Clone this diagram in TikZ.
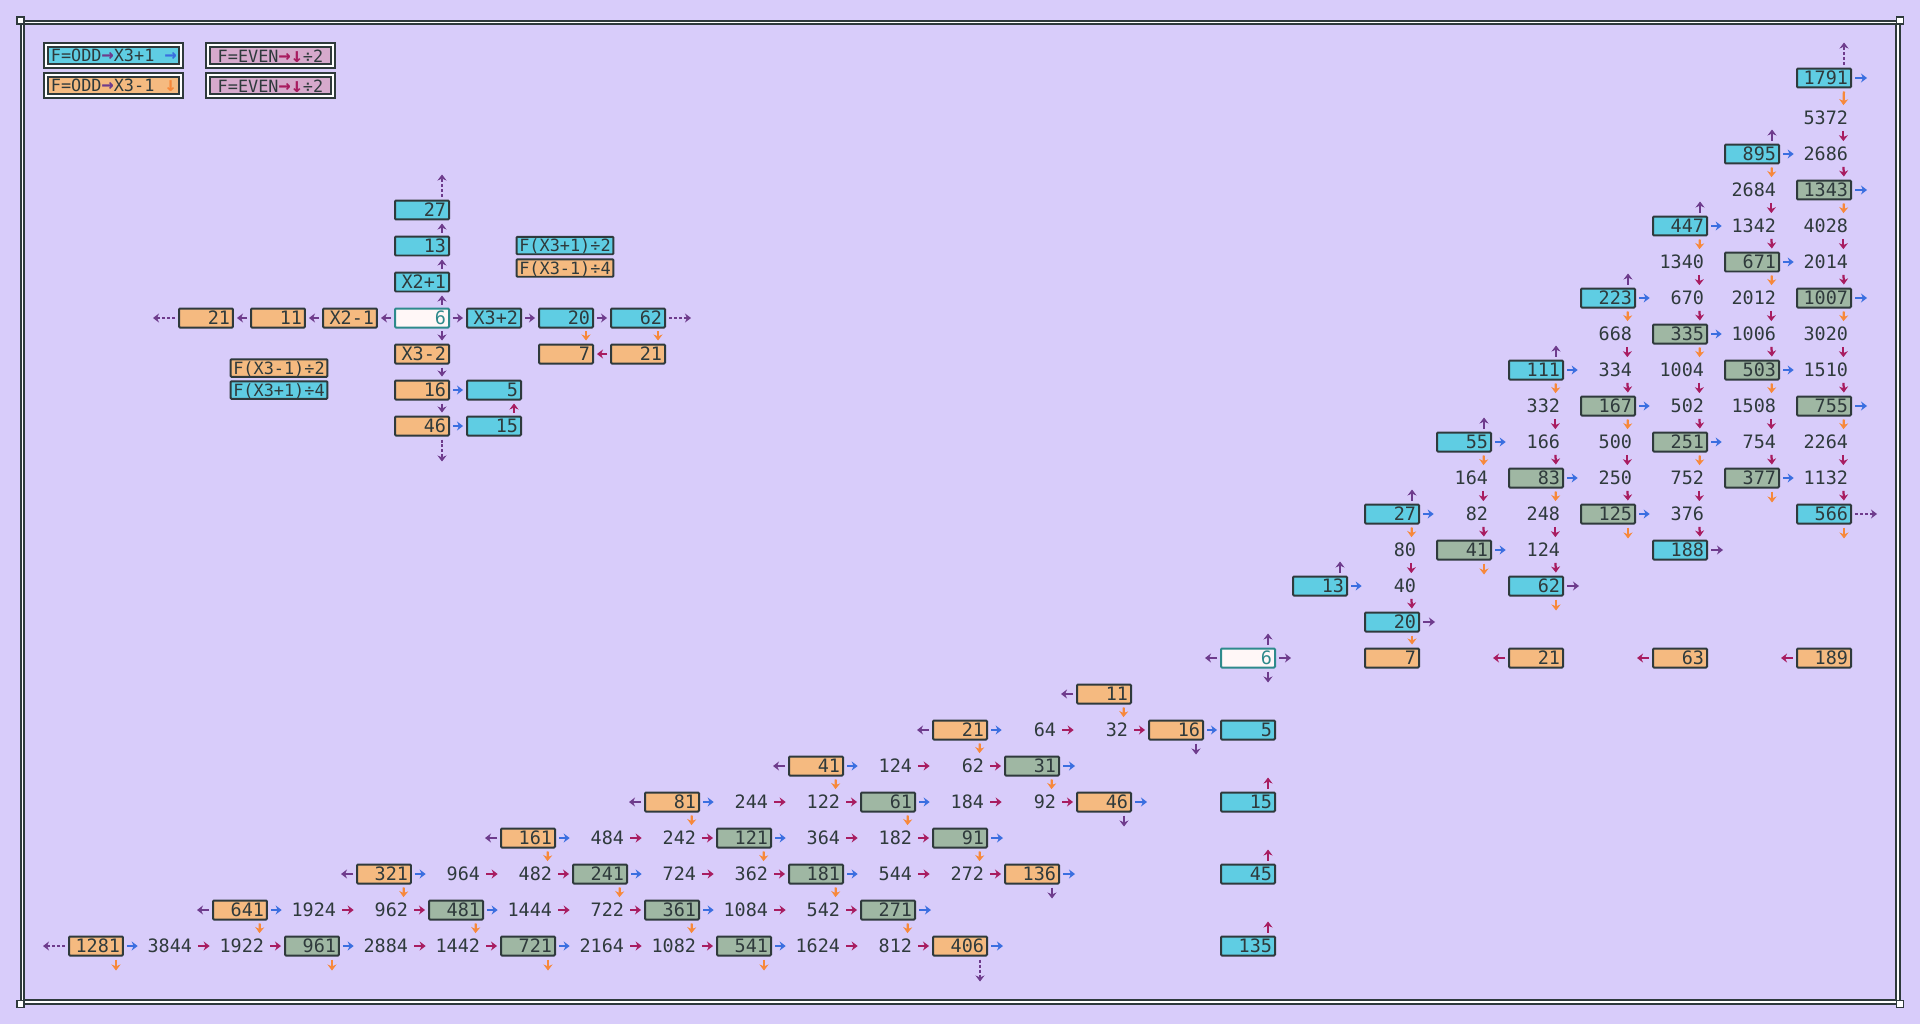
\documentclass[tikz,border=0pt]{standalone}
\usepackage{fontspec}
\newfontfamily\pixfont{DejaVu Sans Mono}
\usetikzlibrary{arrows.meta}

\definecolor{bgviolet}{HTML}{D8CCFA}
\definecolor{ink}{HTML}{2F3A3C}
\definecolor{cyanfill}{HTML}{5FCDE3}
\definecolor{orangefill}{HTML}{F5BA80}
\definecolor{greenfill}{HTML}{9FB7A3}
\definecolor{pinkfill}{HTML}{D6A9CC}
\definecolor{startfill}{HTML}{FFF7F7}
\definecolor{startline}{HTML}{2E8A8C}
\definecolor{arrpurple}{HTML}{6E3B8C}
\definecolor{arrblue}{HTML}{3A6EE0}
\definecolor{arrmagenta}{HTML}{A81C60}
\definecolor{arrorange}{HTML}{F7883A}

% coloured arrow glyphs for the legend
\newcommand{\keyarrow}[2]{{\color{#1}\bfseries\fontsize{11.5}{12}\selectfont #2}}

\begin{document}
\begin{tikzpicture}[
    x=0.02cm, y=-0.02cm,
    font=\pixfont\fontsize{10.5}{12}\selectfont,
    numcell/.style={inner xsep=0.06cm, inner ysep=0pt, text width=0.96cm, align=right,
                    minimum height=0.38cm, text height=7.6pt, text depth=0pt, text=ink},
    numbox/.style={numcell, draw=ink, line width=0.04cm, rounded corners=0.02cm},
    cyanbox/.style={numbox, fill=cyanfill},
    greenbox/.style={numbox, fill=greenfill},
    orangebox/.style={numbox, fill=orangefill},
    startbox/.style={numbox, draw=startline, fill=startfill, text=startline},
    bare/.style={numcell},
    keybox/.style={draw=ink, double=white, line width=0.04cm, double distance=0.04cm,
                   minimum height=0.42cm, inner sep=0pt, text=ink,
                   font=\pixfont\fontsize{9.6}{12}\selectfont},
    tagbox/.style={draw=ink, line width=0.04cm, rounded corners=0.02cm, minimum width=1.94cm,
                   minimum height=0.35cm, inner sep=0pt, text=ink, text height=7pt, text depth=0pt,
                   font=\pixfont\fontsize{9.6}{11}\selectfont},
    hop/.style={line width=0.045cm, -{Stealth[length=0.12cm,width=0.18cm]},
                shorten <=0.06cm, shorten >=0.06cm},
    hopdash/.style={hop, dash pattern=on 0.06cm off 0.04cm},
]

% ---- background and frame ----
\fill[bgviolet] (0,0) rectangle (1920,1024);
\useasboundingbox (0,0) rectangle (1920,1024);
\draw[ink, double=white, line width=0.04cm, double distance=0.034cm] (22.5,22.5) rectangle (1898,1002);
\foreach \x/\y in {20.5/20.5, 1900/20.5, 20.5/1004, 1900/1004}
    \draw[ink, line width=0.035cm, fill=white] (\x-3.5,\y-3.5) rectangle (\x+3.5,\y+3.5);

% ---- legend ----
\node[keybox, fill=cyanfill, minimum width=2.7cm] (keyup) at (113.8,55.8)
    {F=ODD\keyarrow{arrpurple}{→}X3+1 \keyarrow{arrblue}{→}};
\node[keybox, fill=orangefill, minimum width=2.7cm] (keydown) at (113.8,85.8)
    {F=ODD\keyarrow{arrpurple}{→}X3-1 \keyarrow{arrorange}{↓}};
\node[keybox, fill=pinkfill, minimum width=2.5cm] (keyhalfa) at (270.5,55.8)
    {F=EVEN\keyarrow{arrmagenta}{→↓}÷2};
\node[keybox, fill=pinkfill, minimum width=2.5cm] (keyhalfb) at (270.5,85.8)
    {F=EVEN\keyarrow{arrmagenta}{→↓}÷2};

% ---- small cross round 6 ----
\foreach \ii/\jj/\val/\nm/\sty in {
    0/0/6/six/startbox,
    0/-1/X2+1/up1/cyanbox, 0/-2/13/up2/cyanbox, 0/-3/27/up3/cyanbox,
    0/1/X3-2/dn1/orangebox, 0/2/16/dn2/orangebox, 0/3/46/dn3/orangebox,
    -1/0/X2-1/lf1/orangebox, -2/0/11/lf2/orangebox, -3/0/21/lf3/orangebox,
    1/0/X3+2/rt1/cyanbox, 2/0/20/rt2/cyanbox, 3/0/62/rt3/cyanbox,
    2/1/7/rt2b/orangebox, 3/1/21/rt3b/orangebox,
    1/2/5/dn2b/cyanbox, 1/3/15/dn3b/cyanbox}
    \node[\sty] (\nm) at ({422+72*\ii},{318+36*\jj}) {\val};

\node[tagbox, fill=cyanfill] (tagra) at (565,245.5) {F(X3+1)÷2};
\node[tagbox, fill=orangefill] (tagrb) at (565,268) {F(X3-1)÷4};
\node[tagbox, fill=orangefill] (tagla) at (279,368) {F(X3-1)÷2};
\node[tagbox, fill=cyanfill] (taglb) at (279,390) {F(X3+1)÷4};

\foreach \pa/\pb in {six/up1, up1/up2, up2/up3}
    \draw[hop, arrpurple] ([xshift=-0.16cm]\pa.north east) -- ([xshift=-0.16cm]\pb.south east);
\foreach \pa/\pb in {six/dn1, dn1/dn2, dn2/dn3}
    \draw[hop, arrpurple] ([xshift=-0.16cm]\pa.south east) -- ([xshift=-0.16cm]\pb.north east);
\foreach \pa/\pb in {six/lf1, lf1/lf2, lf2/lf3, six/rt1, rt1/rt2, rt2/rt3}
    \draw[hop, arrpurple] (\pa) -- (\pb);
\draw[hopdash, arrpurple] ([xshift=-0.16cm]up3.north east) -- ++(0,-28);
\draw[hopdash, arrpurple] ([xshift=-0.16cm]dn3.south east) -- ++(0,28);
\draw[hopdash, arrpurple] (lf3.west) -- ++(-28,0);
\draw[hopdash, arrpurple] (rt3.east) -- ++(28,0);
\draw[hop, arrblue] (dn2) -- (dn2b);
\draw[hop, arrblue] (dn3) -- (dn3b);
\draw[hop, arrmagenta] ([xshift=-0.16cm]dn3b.north east) -- ([xshift=-0.16cm]dn2b.south east);
\draw[hop, arrorange] ([xshift=-0.16cm]rt2.south east) -- ([xshift=-0.16cm]rt2b.north east);
\draw[hop, arrorange] ([xshift=-0.16cm]rt3.south east) -- ([xshift=-0.16cm]rt3b.north east);
\draw[hop, arrmagenta] (rt3b) -- (rt2b);

% ---- main grid: column cc, row rr (row 0 sits a little higher) ----
\foreach \cc/\rr/\val/\sty in {
    24/0/1791/cyanbox,
    24/1/5372/bare,
    23/2/895/cyanbox, 24/2/2686/bare,
    23/3/2684/bare, 24/3/1343/greenbox,
    22/4/447/cyanbox, 23/4/1342/bare, 24/4/4028/bare,
    22/5/1340/bare, 23/5/671/greenbox, 24/5/2014/bare,
    21/6/223/cyanbox, 22/6/670/bare, 23/6/2012/bare, 24/6/1007/greenbox,
    21/7/668/bare, 22/7/335/greenbox, 23/7/1006/bare, 24/7/3020/bare,
    20/8/111/cyanbox, 21/8/334/bare, 22/8/1004/bare, 23/8/503/greenbox, 24/8/1510/bare,
    20/9/332/bare, 21/9/167/greenbox, 22/9/502/bare, 23/9/1508/bare, 24/9/755/greenbox,
    19/10/55/cyanbox, 20/10/166/bare, 21/10/500/bare, 22/10/251/greenbox, 23/10/754/bare, 24/10/2264/bare,
    19/11/164/bare, 20/11/83/greenbox, 21/11/250/bare, 22/11/752/bare, 23/11/377/greenbox, 24/11/1132/bare,
    18/12/27/cyanbox, 19/12/82/bare, 20/12/248/bare, 21/12/125/greenbox, 22/12/376/bare, 24/12/566/cyanbox,
    18/13/80/bare, 19/13/41/greenbox, 20/13/124/bare, 22/13/188/cyanbox,
    17/14/13/cyanbox, 18/14/40/bare, 20/14/62/cyanbox,
    18/15/20/cyanbox,
    16/16/6/startbox, 18/16/7/orangebox, 20/16/21/orangebox, 22/16/63/orangebox, 24/16/189/orangebox,
    14/17/11/orangebox,
    12/18/21/orangebox, 13/18/64/bare, 14/18/32/bare, 15/18/16/orangebox, 16/18/5/cyanbox,
    10/19/41/orangebox, 11/19/124/bare, 12/19/62/bare, 13/19/31/greenbox,
    8/20/81/orangebox, 9/20/244/bare, 10/20/122/bare, 11/20/61/greenbox, 12/20/184/bare,
    13/20/92/bare, 14/20/46/orangebox, 16/20/15/cyanbox,
    6/21/161/orangebox, 7/21/484/bare, 8/21/242/bare, 9/21/121/greenbox, 10/21/364/bare,
    11/21/182/bare, 12/21/91/greenbox,
    4/22/321/orangebox, 5/22/964/bare, 6/22/482/bare, 7/22/241/greenbox, 8/22/724/bare,
    9/22/362/bare, 10/22/181/greenbox, 11/22/544/bare, 12/22/272/bare, 13/22/136/orangebox,
    16/22/45/cyanbox,
    2/23/641/orangebox, 3/23/1924/bare, 4/23/962/bare, 5/23/481/greenbox, 6/23/1444/bare,
    7/23/722/bare, 8/23/361/greenbox, 9/23/1084/bare, 10/23/542/bare, 11/23/271/greenbox,
    0/24/1281/orangebox, 1/24/3844/bare, 2/24/1922/bare, 3/24/961/greenbox, 4/24/2884/bare,
    5/24/1442/bare, 6/24/721/greenbox, 7/24/2164/bare, 8/24/1082/bare, 9/24/541/greenbox,
    10/24/1624/bare, 11/24/812/bare, 12/24/406/orangebox, 16/24/135/cyanbox}
    \node[\sty] (m\cc-\rr) at ({96+72*\cc},{82+36*\rr-4*(\rr==0)}) {\val};

% ---- x3+1 steps (blue, right) ----
\foreach \pa/\pb in {23-2/24-2, 22-4/23-4, 23-5/24-5, 21-6/22-6, 22-7/23-7, 20-8/21-8, 23-8/24-8,
    21-9/22-9, 19-10/20-10, 22-10/23-10, 20-11/21-11, 23-11/24-11, 18-12/19-12, 21-12/22-12,
    19-13/20-13, 17-14/18-14, 15-18/16-18, 12-18/13-18, 10-19/11-19, 8-20/9-20, 11-20/12-20,
    6-21/7-21, 9-21/10-21, 4-22/5-22, 7-22/8-22, 10-22/11-22, 2-23/3-23, 5-23/6-23, 8-23/9-23,
    0-24/1-24, 3-24/4-24, 6-24/7-24, 9-24/10-24}
    \draw[hop, arrblue] (m\pa) -- (m\pb);
\foreach \pa in {24-0, 24-3, 24-6, 24-9, 13-19, 14-20, 12-21, 13-22, 11-23, 12-24}
    \draw[hop, arrblue] (m\pa.east) -- ++(18,0);

% ---- halving steps (magenta) ----
\foreach \pa/\pb in {13-18/14-18, 14-18/15-18, 11-19/12-19, 12-19/13-19, 9-20/10-20, 10-20/11-20,
    12-20/13-20, 13-20/14-20, 7-21/8-21, 8-21/9-21, 10-21/11-21, 11-21/12-21, 5-22/6-22,
    6-22/7-22, 8-22/9-22, 9-22/10-22, 11-22/12-22, 12-22/13-22, 3-23/4-23, 4-23/5-23,
    6-23/7-23, 7-23/8-23, 9-23/10-23, 10-23/11-23, 1-24/2-24, 2-24/3-24, 4-24/5-24,
    5-24/6-24, 7-24/8-24, 8-24/9-24, 10-24/11-24, 11-24/12-24}
    \draw[hop, arrmagenta] (m\pa) -- (m\pb);
\foreach \pa/\pb in {24-1/24-2, 24-2/24-3, 24-4/24-5, 24-5/24-6, 24-7/24-8, 24-8/24-9,
    24-10/24-11, 24-11/24-12, 23-3/23-4, 23-4/23-5, 23-6/23-7, 23-7/23-8, 23-9/23-10,
    23-10/23-11, 22-5/22-6, 22-6/22-7, 22-8/22-9, 22-9/22-10, 22-11/22-12, 22-12/22-13,
    21-7/21-8, 21-8/21-9, 21-10/21-11, 21-11/21-12, 20-9/20-10, 20-10/20-11, 20-12/20-13,
    20-13/20-14, 19-11/19-12, 19-12/19-13, 18-13/18-14, 18-14/18-15}
    \draw[hop, arrmagenta] ([xshift=-0.16cm]m\pa.south east) -- ([xshift=-0.16cm]m\pb.north east);
\foreach \pa in {16-20, 16-22, 16-24}
    \draw[hop, arrmagenta] ([xshift=-0.16cm]m\pa.north east) -- ++(0,-17);
\foreach \pa in {20-16, 22-16, 24-16}
    \draw[hop, arrmagenta] (m\pa.west) -- ++(-18,0);

% ---- x3-1 steps (orange, down) ----
\foreach \pa/\pb in {24-0/24-1, 23-2/23-3, 24-3/24-4, 22-4/22-5, 23-5/23-6, 24-6/24-7, 21-6/21-7,
    22-7/22-8, 23-8/23-9, 24-9/24-10, 20-8/20-9, 21-9/21-10, 22-10/22-11, 19-10/19-11,
    20-11/20-12, 18-12/18-13, 18-15/18-16, 14-17/14-18, 12-18/12-19, 10-19/10-20, 13-19/13-20,
    8-20/8-21, 11-20/11-21, 6-21/6-22, 9-21/9-22, 12-21/12-22, 4-22/4-23, 7-22/7-23,
    10-22/10-23, 2-23/2-24, 5-23/5-24, 8-23/8-24, 11-23/11-24}
    \draw[hop, arrorange] ([xshift=-0.16cm]m\pa.south east) -- ([xshift=-0.16cm]m\pb.north east);
\foreach \pa in {23-11, 21-12, 24-12, 19-13, 20-14, 0-24, 3-24, 6-24, 9-24}
    \draw[hop, arrorange] ([xshift=-0.16cm]m\pa.south east) -- ++(0,17);

% ---- open ends (purple) ----
\foreach \pa in {23-2, 22-4, 21-6, 20-8, 19-10, 18-12, 17-14, 16-16}
    \draw[hop, arrpurple] ([xshift=-0.16cm]m\pa.north east) -- ++(0,-17);
\foreach \pa in {15-18, 14-20, 13-22, 16-16}
    \draw[hop, arrpurple] ([xshift=-0.16cm]m\pa.south east) -- ++(0,17);
\foreach \pa in {22-13, 20-14, 18-15, 16-16}
    \draw[hop, arrpurple] (m\pa.east) -- ++(18,0);
\foreach \pa in {14-17, 12-18, 10-19, 8-20, 6-21, 4-22, 2-23, 16-16}
    \draw[hop, arrpurple] (m\pa.west) -- ++(-18,0);
\draw[hopdash, arrpurple] ([xshift=-0.16cm]m24-0.north east) -- ++(0,-28);
\draw[hopdash, arrpurple] (m24-12.east) -- ++(28,0);
\draw[hopdash, arrpurple] (m0-24.west) -- ++(-28,0);
\draw[hopdash, arrpurple] ([xshift=-0.16cm]m12-24.south east) -- ++(0,28);

\end{tikzpicture}
\end{document}
